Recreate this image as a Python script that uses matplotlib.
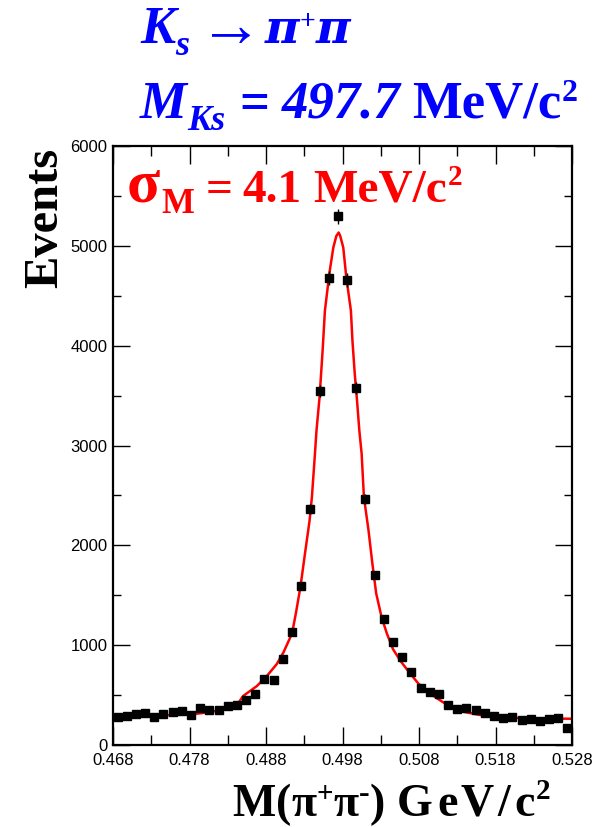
import numpy as np
import matplotlib
matplotlib.use("Agg")
import matplotlib.pyplot as plt

plt.rcParams['font.family'] = ['Liberation Sans', 'DejaVu Sans']

# ---- data -------------------------------------------------------------
bin_lo = 0.468
bin_width = 0.0012
counts = [283, 293, 313, 317, 277, 313, 333, 337, 303, 373,
          353, 347, 393, 397, 453, 513, 657, 647, 857, 1130,
          1590, 2365, 3545, 4675, 5295, 4655, 3575, 2465, 1705, 1263,
          1033, 877, 733, 567, 527, 507, 397, 357, 373, 347,
          317, 287, 273, 277, 250, 263, 237, 257, 267, 167]

fit_x = [0.4680, 0.4728, 0.4781, 0.4807, 0.4829, 0.4842, 0.4850, 0.4868,
         0.4881, 0.4894, 0.4903, 0.4914, 0.4919, 0.4925, 0.4931, 0.4937,
         0.4940, 0.4944, 0.4946, 0.4950, 0.4954, 0.4957, 0.4963, 0.4968,
         0.4972, 0.4975, 0.4977, 0.4981, 0.4985, 0.4991, 0.4993, 0.4996,
         0.4999, 0.5002, 0.5005, 0.5008, 0.5014, 0.5019, 0.5024, 0.5031,
         0.5038, 0.5046, 0.5056, 0.5068, 0.5079, 0.5094, 0.5107, 0.5121,
         0.5138, 0.5160, 0.5186, 0.5221, 0.5280]
fit_y = [290, 295, 305, 330, 365, 400, 490, 590,
         690, 810, 930, 1117, 1317, 1583, 1920, 2250,
         2483, 2920, 3150, 3483, 3950, 4350, 4733, 4983,
         5100, 5133, 5100, 4983, 4683, 4350, 4050, 3720,
         3450, 3150, 2920, 2483, 2150, 1820, 1520, 1283,
         1117, 960, 840, 720, 617, 517, 450, 383,
         333, 300, 277, 267, 263]

x_major = [0.468, 0.478, 0.488, 0.498, 0.508, 0.518, 0.528]
x_tick_labels = ["0.468", "0.478", "0.488", "0.498", "0.508", "0.518", "0.528"]
y_major = [0, 1000, 2000, 3000, 4000, 5000, 6000]

# ---- figure -----------------------------------------------------------
W, H = 597, 827
fig = plt.figure(figsize=(W / 100, H / 100), dpi=100)
ax = fig.add_axes([113 / W, 1 - 745 / H, (572 - 113) / W, (745 - 146) / H])

n = len(counts)
centers = bin_lo + bin_width * (np.arange(n) + 0.5)
cnt = np.array(counts, dtype=float)
ax.errorbar(centers, cnt, yerr=np.sqrt(cnt), fmt='s', color='black',
            markersize=5.8, elinewidth=1.0, capsize=0, zorder=3)
ax.plot(fit_x, fit_y, color='red', lw=1.8, zorder=2)

ax.set_xlim(0.468, 0.528)
ax.set_ylim(0, 6000)
ax.set_xticks(x_major)
ax.set_xticklabels(x_tick_labels)
ax.set_xticks(np.arange(0.473, 0.528, 0.01), minor=True)
ax.set_yticks(y_major)
ax.set_yticks(np.arange(500, 6000, 1000), minor=True)
ax.tick_params(which='both', direction='in', top=True, right=True,
               labelsize=12, width=1.0, colors='black')
ax.tick_params(axis='x', which='major', length=13, pad=6)
ax.tick_params(axis='x', which='minor', length=7)
ax.tick_params(axis='y', which='major', length=12, pad=4)
ax.tick_params(axis='y', which='minor', length=6)
for s in ax.spines.values():
    s.set_linewidth(1.6)

SERIF = ['Liberation Serif', 'DejaVu Serif']
renderer = fig.canvas.get_renderer()


def flow(x, parts, color):
    """Draw text parts left to right; each part:
    (text, size, baseline_y, style, gap_before, family, weight)."""
    for s, size, y, style, gap, fam, wt in parts:
        x = x + gap
        t = fig.text(x / W, 1 - y / H, s, color=color, fontsize=size,
                     fontstyle=style, fontweight=wt,
                     family=fam if fam else SERIF,
                     ha='left', va='baseline')
        bb = t.get_window_extent(renderer)
        x = bb.x1
    return x


blue = (0, 0, 1)
red = (1, 0, 0)
B = 'bold'
ARROW = ['Liberation Serif', 'DejaVu Sans']
PI = ['DejaVu Serif']

# line 1: K_s -> pi+ pi
flow(140, [('K', 38, 43, 'italic', 0, None, B),
           ('s', 26, 55, 'italic', 0, None, B),
           ('\u2192', 46, 46, 'normal', 10, ARROW, 'normal'),
           ('\u03c0', 34, 43, 'italic', 2, PI, B),
           ('+', 20, 29, 'normal', 0, None, B),
           ('\u03c0', 34, 43, 'italic', 0, PI, B)], blue)

# line 2: M_Ks = 497.7 MeV/c2
flow(140, [('M', 38, 118, 'italic', 0, None, B),
           ('Ks', 26, 130, 'italic', 0, None, B),
           ('=', 38, 118, 'normal', 14, None, B),
           ('497.7', 38, 118, 'italic', 13, None, B),
           ('MeV/c', 38, 118, 'normal', 11, None, B),
           ('2', 23, 101, 'normal', 1, None, B)], blue)

# red: sigma_M = 4.1 MeV/c2
flow(127, [('\u03c3', 44, 202, 'normal', 0, None, B),
           ('M', 25, 213, 'normal', 1, None, B),
           ('=', 34, 202, 'normal', 12, None, B),
           ('4.1', 34, 202, 'normal', 9, None, B),
           ('MeV/c', 34, 202, 'normal', 12, None, B),
           ('2', 21, 185, 'normal', 1, None, B)], red)

# axis titles
fig.text(67 / W, 1 - 218 / H, 'Events', family=SERIF,
         weight='bold', fontsize=35, rotation=90, ha='right', va='center')
XB = 816
flow(232, [('M', 33, XB, 'normal', 0, None, B),
           ('(', 33, XB, 'normal', 1, None, B),
           ('\u03c0', 33, XB, 'normal', 0, None, B),
           ('+', 21, XB - 14, 'normal', 0, None, B),
           ('\u03c0', 33, XB, 'normal', 0, None, B),
           ('-', 23, XB - 14, 'normal', 0, None, B),
           (')', 33, XB, 'normal', 1, None, B),
           ('G', 33, XB, 'normal', 12, None, B),
           ('e', 33, XB, 'normal', 4, None, B),
           ('V', 33, XB, 'normal', 3, None, B),
           ('/', 33, XB, 'normal', 4, None, B),
           ('c', 33, XB, 'normal', 4, None, B),
           ('2', 21, XB - 17, 'normal', 1, None, B)], 'black')

fig.savefig('out.png', dpi=100)
